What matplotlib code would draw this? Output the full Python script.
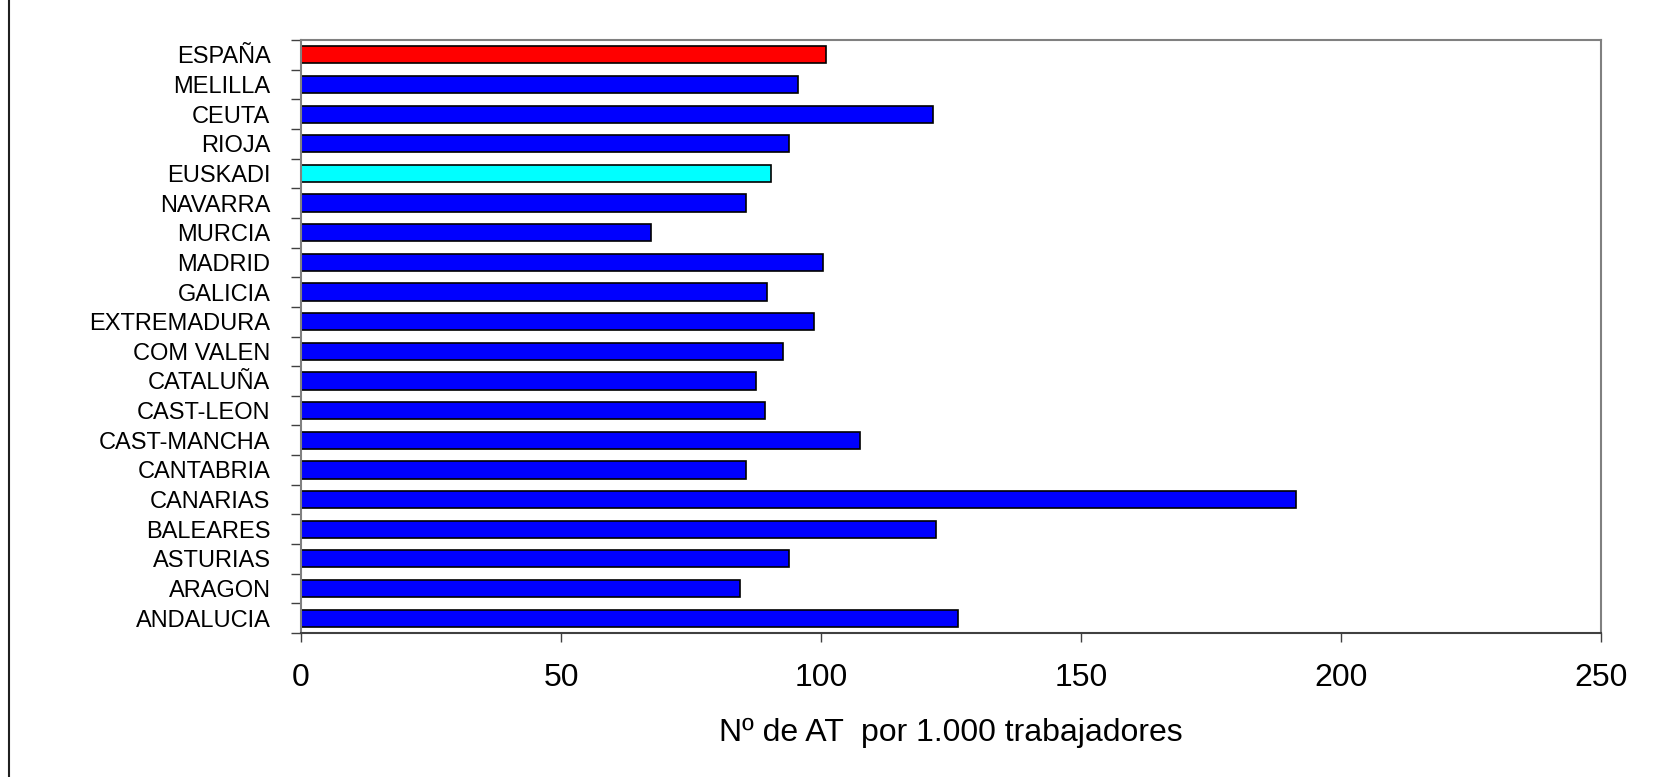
import matplotlib.pyplot as plt
import numpy as np
from matplotlib.lines import Line2D

plt.rcParams['font.family'] = ['Liberation Sans', 'DejaVu Sans']

# regions, bottom to top
regions = ['ANDALUCIA', 'ARAGON', 'ASTURIAS', 'BALEARES', 'CANARIAS',
           'CANTABRIA', 'CAST-MANCHA', 'CAST-LEON', 'CATALUÑA', 'COM VALEN',
           'EXTREMADURA', 'GALICIA', 'MADRID', 'MURCIA', 'NAVARRA',
           'EUSKADI', 'RIOJA', 'CEUTA', 'MELILLA', 'ESPAÑA']
at_rate = [126.3, 84.4, 93.9, 122.2, 191.3,
           85.6, 107.4, 89.2, 87.4, 92.7,
           98.6, 89.7, 100.4, 67.3, 85.6,
           90.3, 93.9, 121.6, 95.6, 101.0]
highlight = {'ESPAÑA': '#ff0000', 'EUSKADI': '#00ffff'}
xticks = [0, 50, 100, 150, 200, 250]

fig = plt.figure(figsize=(16.55, 7.77), dpi=100)
ax = fig.add_axes([0.1819, 0.1853, 0.9674 - 0.1819, 0.9485 - 0.1853])

y = np.arange(len(regions))
colors = [highlight.get(r, '#0000ff') for r in regions]
ax.barh(y, at_rate, height=0.58, color=colors, edgecolor='black', linewidth=1.2)

ax.set_xlim(0, 250)
ax.set_ylim(-0.5, len(regions) - 0.5)
ax.set_xticks(xticks)
ax.set_xticklabels([str(t) for t in xticks], fontsize=23)
ax.tick_params(axis='x', length=6.5, width=1, color='#404040', pad=15)

# labels on the bar centres, tick marks on the boundaries
ax.set_yticks(y)
ax.set_yticklabels(regions, fontsize=17)
ax.tick_params(axis='y', which='major', length=0, pad=22)
ax.set_yticks(np.arange(len(regions) + 1) - 0.5, minor=True)
ax.tick_params(axis='y', which='minor', length=7.5, width=1, color='#404040')

for side in ['top', 'right', 'left']:
    ax.spines[side].set_color('#808080')
    ax.spines[side].set_linewidth(1.5)
ax.spines['bottom'].set_color('#404040')
ax.spines['bottom'].set_linewidth(1.5)

ax.set_xlabel('Nº de AT  por 1.000 trabajadores', fontsize=23, labelpad=18)

fig.add_artist(Line2D([0.0057, 0.0057], [0, 1], transform=fig.transFigure,
                      color='#202020', linewidth=1.5))

plt.savefig('out.png', dpi=100)
